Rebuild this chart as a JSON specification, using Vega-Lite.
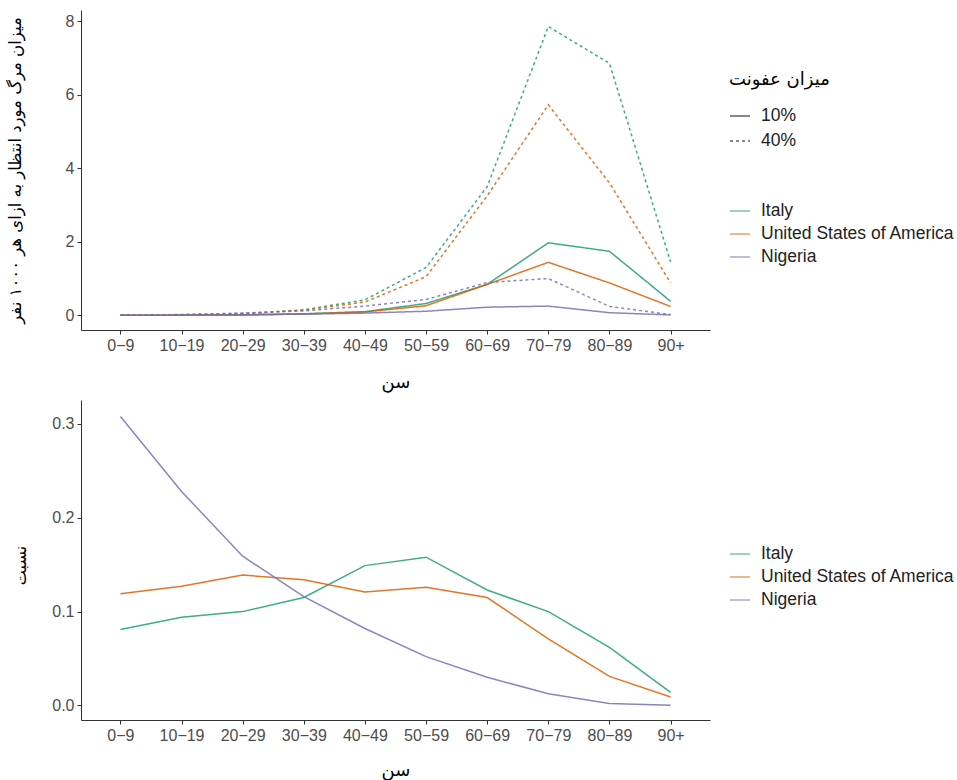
{
  "$schema": "https://vega.github.io/schema/vega-lite/v6.json",
  "background": "white",
  "padding": {"left": 7, "top": 10, "right": 2, "bottom": 5},
  "config": {
    "view": {"stroke": null},
    "axis": {"grid": false, "domainColor": "#333333", "tickColor": "#333333", "tickSize": 4, "labelFont": "Liberation Sans", "labelFontSize": 16, "labelColor": "#4d4d4d", "labelPadding": 3, "titleFont": "DejaVu Sans", "titleFontWeight": "normal", "titleColor": "#000000"},
    "legend": {"labelFont": "Liberation Sans", "labelFontSize": 17.5, "labelLimit": 0, "labelColor": "#222222", "titleFont": "DejaVu Sans", "titleFontSize": 18, "titleFontWeight": "normal", "titleColor": "#000000", "titleLimit": 0, "symbolType": "stroke", "symbolSize": 400, "symbolStrokeWidth": 1.5, "labelOffset": 10, "padding": 0}
  },
  "bounds": "flush",
  "spacing": 70,
  "resolve": {"scale": {"color": "independent"}, "legend": {"color": "independent"}},
  "datasets": {
    "deaths": [
      {"age": "0-9", "country": "Italy", "rate": "10%", "value": 0.0005},
      {"age": "10-19", "country": "Italy", "rate": "10%", "value": 0.003},
      {"age": "20-29", "country": "Italy", "rate": "10%", "value": 0.01},
      {"age": "30-39", "country": "Italy", "rate": "10%", "value": 0.04},
      {"age": "40-49", "country": "Italy", "rate": "10%", "value": 0.1},
      {"age": "50-59", "country": "Italy", "rate": "10%", "value": 0.32},
      {"age": "60-69", "country": "Italy", "rate": "10%", "value": 0.84},
      {"age": "70-79", "country": "Italy", "rate": "10%", "value": 1.97},
      {"age": "80-89", "country": "Italy", "rate": "10%", "value": 1.74},
      {"age": "90+", "country": "Italy", "rate": "10%", "value": 0.38},
      {"age": "0-9", "country": "Italy", "rate": "40%", "value": 0.002},
      {"age": "10-19", "country": "Italy", "rate": "40%", "value": 0.012},
      {"age": "20-29", "country": "Italy", "rate": "40%", "value": 0.04},
      {"age": "30-39", "country": "Italy", "rate": "40%", "value": 0.15},
      {"age": "40-49", "country": "Italy", "rate": "40%", "value": 0.42},
      {"age": "50-59", "country": "Italy", "rate": "40%", "value": 1.3},
      {"age": "60-69", "country": "Italy", "rate": "40%", "value": 3.5},
      {"age": "70-79", "country": "Italy", "rate": "40%", "value": 7.85},
      {"age": "80-89", "country": "Italy", "rate": "40%", "value": 6.85},
      {"age": "90+", "country": "Italy", "rate": "40%", "value": 1.45},
      {"age": "0-9", "country": "United States of America", "rate": "10%", "value": 0.001},
      {"age": "10-19", "country": "United States of America", "rate": "10%", "value": 0.004},
      {"age": "20-29", "country": "United States of America", "rate": "10%", "value": 0.012},
      {"age": "30-39", "country": "United States of America", "rate": "10%", "value": 0.035},
      {"age": "40-49", "country": "United States of America", "rate": "10%", "value": 0.09},
      {"age": "50-59", "country": "United States of America", "rate": "10%", "value": 0.26},
      {"age": "60-69", "country": "United States of America", "rate": "10%", "value": 0.84},
      {"age": "70-79", "country": "United States of America", "rate": "10%", "value": 1.44},
      {"age": "80-89", "country": "United States of America", "rate": "10%", "value": 0.88},
      {"age": "90+", "country": "United States of America", "rate": "10%", "value": 0.24},
      {"age": "0-9", "country": "United States of America", "rate": "40%", "value": 0.004},
      {"age": "10-19", "country": "United States of America", "rate": "40%", "value": 0.016},
      {"age": "20-29", "country": "United States of America", "rate": "40%", "value": 0.05},
      {"age": "30-39", "country": "United States of America", "rate": "40%", "value": 0.14},
      {"age": "40-49", "country": "United States of America", "rate": "40%", "value": 0.36},
      {"age": "50-59", "country": "United States of America", "rate": "40%", "value": 1.05},
      {"age": "60-69", "country": "United States of America", "rate": "40%", "value": 3.25},
      {"age": "70-79", "country": "United States of America", "rate": "40%", "value": 5.72},
      {"age": "80-89", "country": "United States of America", "rate": "40%", "value": 3.6},
      {"age": "90+", "country": "United States of America", "rate": "40%", "value": 0.88},
      {"age": "0-9", "country": "Nigeria", "rate": "10%", "value": 0.002},
      {"age": "10-19", "country": "Nigeria", "rate": "10%", "value": 0.005},
      {"age": "20-29", "country": "Nigeria", "rate": "10%", "value": 0.015},
      {"age": "30-39", "country": "Nigeria", "rate": "10%", "value": 0.03},
      {"age": "40-49", "country": "Nigeria", "rate": "10%", "value": 0.06},
      {"age": "50-59", "country": "Nigeria", "rate": "10%", "value": 0.11},
      {"age": "60-69", "country": "Nigeria", "rate": "10%", "value": 0.22},
      {"age": "70-79", "country": "Nigeria", "rate": "10%", "value": 0.25},
      {"age": "80-89", "country": "Nigeria", "rate": "10%", "value": 0.07},
      {"age": "90+", "country": "Nigeria", "rate": "10%", "value": 0.01},
      {"age": "0-9", "country": "Nigeria", "rate": "40%", "value": 0.008},
      {"age": "10-19", "country": "Nigeria", "rate": "40%", "value": 0.02},
      {"age": "20-29", "country": "Nigeria", "rate": "40%", "value": 0.06},
      {"age": "30-39", "country": "Nigeria", "rate": "40%", "value": 0.12},
      {"age": "40-49", "country": "Nigeria", "rate": "40%", "value": 0.25},
      {"age": "50-59", "country": "Nigeria", "rate": "40%", "value": 0.43},
      {"age": "60-69", "country": "Nigeria", "rate": "40%", "value": 0.89},
      {"age": "70-79", "country": "Nigeria", "rate": "40%", "value": 1.0},
      {"age": "80-89", "country": "Nigeria", "rate": "40%", "value": 0.24},
      {"age": "90+", "country": "Nigeria", "rate": "40%", "value": 0.02}
    ],
    "share": [
      {"age": "0-9", "country": "Italy", "prop": 0.081},
      {"age": "10-19", "country": "Italy", "prop": 0.094},
      {"age": "20-29", "country": "Italy", "prop": 0.100},
      {"age": "30-39", "country": "Italy", "prop": 0.115},
      {"age": "40-49", "country": "Italy", "prop": 0.149},
      {"age": "50-59", "country": "Italy", "prop": 0.158},
      {"age": "60-69", "country": "Italy", "prop": 0.123},
      {"age": "70-79", "country": "Italy", "prop": 0.100},
      {"age": "80-89", "country": "Italy", "prop": 0.062},
      {"age": "90+", "country": "Italy", "prop": 0.014},
      {"age": "0-9", "country": "United States of America", "prop": 0.119},
      {"age": "10-19", "country": "United States of America", "prop": 0.127},
      {"age": "20-29", "country": "United States of America", "prop": 0.139},
      {"age": "30-39", "country": "United States of America", "prop": 0.134},
      {"age": "40-49", "country": "United States of America", "prop": 0.121},
      {"age": "50-59", "country": "United States of America", "prop": 0.126},
      {"age": "60-69", "country": "United States of America", "prop": 0.115},
      {"age": "70-79", "country": "United States of America", "prop": 0.071},
      {"age": "80-89", "country": "United States of America", "prop": 0.031},
      {"age": "90+", "country": "United States of America", "prop": 0.009},
      {"age": "0-9", "country": "Nigeria", "prop": 0.308},
      {"age": "10-19", "country": "Nigeria", "prop": 0.228},
      {"age": "20-29", "country": "Nigeria", "prop": 0.159},
      {"age": "30-39", "country": "Nigeria", "prop": 0.116},
      {"age": "40-49", "country": "Nigeria", "prop": 0.082},
      {"age": "50-59", "country": "Nigeria", "prop": 0.052},
      {"age": "60-69", "country": "Nigeria", "prop": 0.030},
      {"age": "70-79", "country": "Nigeria", "prop": 0.0125},
      {"age": "80-89", "country": "Nigeria", "prop": 0.002},
      {"age": "90+", "country": "Nigeria", "prop": 0.0003}
    ]
  },
  "vconcat": [
    {
      "width": 629,
      "height": 320,
      "data": {"name": "deaths"},
      "mark": {"type": "line", "strokeWidth": 1.5, "opacity": 0.85},
      "encoding": {
        "x": {"field": "age", "type": "ordinal", "sort": ["0-9","10-19","20-29","30-39","40-49","50-59","60-69","70-79","80-89","90+"],
              "scale": {"type": "point", "padding": 0.645},
              "axis": {"labelAngle": 0, "labelExpr": "replace(datum.label, '-', '−')", "title": "سن", "titleFontSize": 18, "titleY": 52, "titleBaseline": "middle"}},
        "y": {"field": "value", "type": "quantitative",
              "scale": {"domain": [-0.4, 8.3], "nice": false, "zero": false},
              "axis": {"values": [0, 2, 4, 6, 8], "title": "میزان مرگ مورد انتظار به ازای هر ۱۰۰۰ نفر", "titleFontSize": 16.5, "titleX": -66, "titleY": 160, "titleBaseline": "middle", "titleAngle": -90}},
        "color": {"field": "country", "type": "nominal",
                  "scale": {"domain": ["Italy", "United States of America", "Nigeria"], "range": ["#1b9e77", "#d95f02", "#7570b3"]},
                  "legend": {"title": null, "orient": "none", "legendX": 648, "legendY": 190, "rowPadding": 3, "symbolOpacity": 0.6}},
        "strokeDash": {"field": "rate", "type": "nominal",
                  "scale": {"domain": ["10%", "40%"], "range": [[1, 0], [3, 3]]},
                  "legend": {"title": "میزان عفونت", "orient": "none", "legendX": 648, "legendY": 61, "titlePadding": 16, "rowPadding": 5, "symbolStrokeColor": "#444444"}}
      }
    },
    {
      "width": 629,
      "height": 320,
      "data": {"name": "share"},
      "mark": {"type": "line", "strokeWidth": 1.5, "opacity": 0.85},
      "encoding": {
        "x": {"field": "age", "type": "ordinal", "sort": ["0-9","10-19","20-29","30-39","40-49","50-59","60-69","70-79","80-89","90+"],
              "scale": {"type": "point", "padding": 0.645},
              "axis": {"labelAngle": 0, "labelExpr": "replace(datum.label, '-', '−')", "title": "سن", "titleFontSize": 18, "titleY": 50, "titleBaseline": "middle"}},
        "y": {"field": "prop", "type": "quantitative",
              "scale": {"domain": [-0.0155, 0.3255], "nice": false, "zero": false},
              "axis": {"values": [0, 0.1, 0.2, 0.3], "format": ".1f", "title": "نسبت", "titleFontSize": 16, "titleX": -61, "titleY": 165, "titleBaseline": "middle", "titleAngle": -90}},
        "color": {"field": "country", "type": "nominal",
                  "scale": {"domain": ["Italy", "United States of America", "Nigeria"], "range": ["#1b9e77", "#d95f02", "#7570b3"]},
                  "legend": {"title": null, "orient": "none", "legendX": 648, "legendY": 143, "rowPadding": 3, "symbolOpacity": 0.6}}
      }
    }
  ]
}
